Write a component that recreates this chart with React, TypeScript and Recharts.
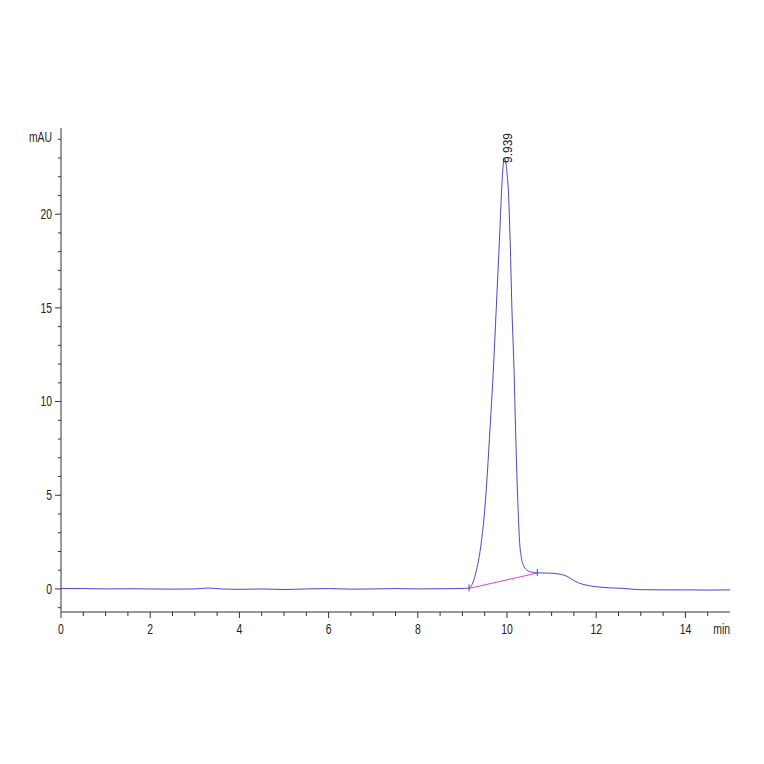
import { LineChart, Line, XAxis, YAxis, ReferenceDot } from 'recharts';

// Chromatogram signal (min, mAU)
const signalTime = [
  0, 0.5, 1, 1.5, 2, 2.5, 3, 3.3, 3.6, 4, 4.5, 5, 5.5, 6, 6.5, 7, 7.5, 8, 8.5, 8.9,
  9.05, 9.15, 9.22, 9.3, 9.36, 9.43, 9.5, 9.56, 9.62, 9.69, 9.76, 9.83, 9.88, 9.91,
  9.94, 9.97, 10.0, 10.03, 10.07, 10.11, 10.16, 10.19, 10.22, 10.25, 10.28, 10.32,
  10.38, 10.45, 10.55, 10.68, 10.85, 11.0, 11.15, 11.3, 11.4, 11.5, 11.6, 11.75,
  11.9, 12.0, 12.3, 12.6, 13.0, 13.5, 14.0, 14.5, 15,
];
const signalMau = [
  0.02, 0.02, 0.0, 0.01, 0.0, -0.01, 0.0, 0.05, 0.0, -0.02, 0.0, -0.03, 0.0, 0.02, -0.01, 0.0, 0.02, 0.0, 0.01, 0.02,
  0.03, 0.05, 0.25, 0.85, 1.5, 2.6, 4.2, 6.2, 8.6, 11.5, 15.0, 18.6, 21.3, 22.5,
  23.0, 22.8, 22.2, 21.3, 18.6, 15.0, 11.5, 8.7, 6.2, 4.2, 2.6, 1.7,
  1.2, 1.0, 0.9, 0.86, 0.85, 0.84, 0.8, 0.72, 0.6, 0.45, 0.33, 0.22,
  0.15, 0.12, 0.06, 0.03, -0.04, -0.05, -0.05, -0.06, -0.05,
];

// Integration baseline under the peak
const baselineTime = [9.15, 10.68];
const baselineMau = [0.03, 0.85];

const peakTime = 9.939;
const peakMau = 23.0;
const peakLabel = '9.939';

const xTicks = [
  0, 0.5, 1, 1.5, 2, 2.5, 3, 3.5, 4, 4.5, 5, 5.5, 6, 6.5, 7, 7.5,
  8, 8.5, 9, 9.5, 10, 10.5, 11, 11.5, 12, 12.5, 13, 13.5, 14, 14.5, 15,
];
const xLabels = [0, 2, 4, 6, 8, 10, 12, 14];
const yTicks = [-1, 0, 1, 2, 3, 4, 5, 6, 7, 8, 9, 10, 11, 12, 13, 14, 15, 16, 17, 18, 19, 20, 21, 22, 23, 24];
const yLabels = [0, 5, 10, 15, 20];

const signalData = signalTime.map((t, i) => ({ t, mau: signalMau[i] }));
const baselineData = baselineTime.map((t, i) => ({ t, mau: baselineMau[i] }));

const axisColor = '#333333';
const font = "'Liberation Sans', Arial, sans-serif";

// narrow, slightly tall text like the instrument printout
function NarrowText({ x, y, anchor, children }: any) {
  return (
    <g transform={`translate(${x},${y}) scale(0.8,1.08)`}>
      <text x={0} y={0} dy="0.35em" textAnchor={anchor} fontSize={13} fontFamily={font} fill="#222">
        {children}
      </text>
    </g>
  );
}

function YTick(props: any) {
  const { x, y, payload } = props;
  const v = payload.value;
  const major = yLabels.includes(v);
  const len = major ? 6 : 3;
  return (
    <g>
      <line x1={x - len} x2={x} y1={y} y2={y} stroke={axisColor} strokeWidth={1} />
      {major && <NarrowText x={x - 9} y={y} anchor="end">{v}</NarrowText>}
      {v === 24 && <NarrowText x={x - 9} y={y - 2} anchor="end">mAU</NarrowText>}
    </g>
  );
}

function XTick(props: any) {
  const { x, y, payload } = props;
  const v = payload.value;
  if (v === 15) {
    return <NarrowText x={x} y={y + 17} anchor="end">min</NarrowText>;
  }
  const major = xLabels.includes(v);
  const len = major ? 6 : 4;
  return (
    <g>
      <line x1={x} x2={x} y1={y} y2={y + len} stroke={axisColor} strokeWidth={1} />
      {major && <NarrowText x={x} y={y + 17} anchor="middle">{v}</NarrowText>}
    </g>
  );
}

function BaselineMark(props: any) {
  const { cx, cy } = props;
  return <line x1={cx} x2={cx} y1={cy - 4} y2={cy + 3} stroke="#555" strokeWidth={1} />;
}

function PeakText(props: any) {
  const { cx, cy } = props;
  return (
    <text
      transform={`translate(${cx + 4},${cy + 5}) rotate(-90)`}
      dominantBaseline="central"
      fontSize={12}
      fontFamily={font}
      fill="#222"
    >
      {peakLabel}
    </text>
  );
}

export default function App() {
  return (
    <div style={{ position: 'absolute', left: 0, top: 0, background: '#fff' }}>
      <LineChart width={764} height={764} margin={{ top: 128, right: 34, bottom: 0, left: 0 }}>
        <XAxis
          type="number"
          dataKey="t"
          domain={[0, 15]}
          ticks={xTicks}
          interval={0}
          height={152}
          tickSize={0}
          tickMargin={0}
          tickLine={false}
          tick={<XTick />}
          axisLine={{ stroke: axisColor }}
          allowDataOverflow
        />
        <YAxis
          type="number"
          domain={[-1.23, 24.6]}
          ticks={yTicks}
          interval={0}
          width={61}
          tickSize={0}
          tickMargin={0}
          tickLine={false}
          tick={<YTick />}
          axisLine={{ stroke: axisColor }}
          allowDataOverflow
        />
        <Line
          data={signalData}
          dataKey="mau"
          type="monotone"
          stroke="#4646d4"
          strokeWidth={1}
          dot={false}
          isAnimationActive={false}
        />
        <Line
          data={baselineData}
          dataKey="mau"
          type="linear"
          stroke="#e040e0"
          strokeWidth={1}
          dot={<BaselineMark />}
          isAnimationActive={false}
        />
        <ReferenceDot x={peakTime} y={peakMau} r={0} shape={<PeakText />} />
      </LineChart>
    </div>
  );
}
